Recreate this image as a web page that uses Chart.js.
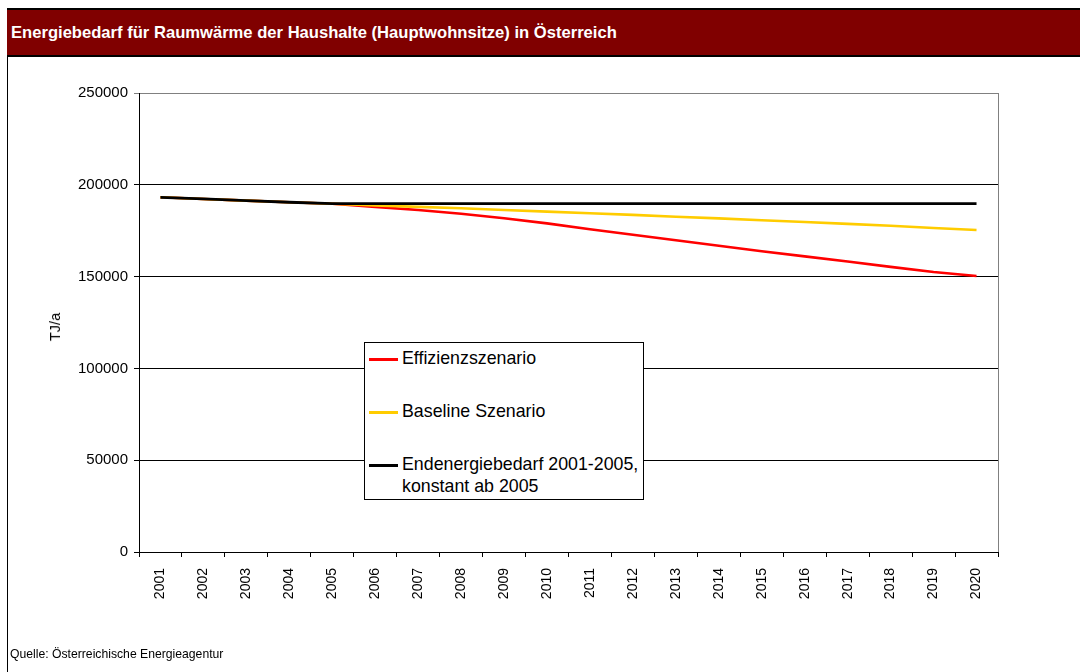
<!DOCTYPE html>
<html>
<head>
<meta charset="utf-8">
<script src="https://cdn.jsdelivr.net/npm/chart.js@4.4.0/dist/chart.umd.min.js"></script>
<style>
  html, body { margin:0; padding:0; background:#fff; }
  body { width:1080px; height:672px; position:relative; overflow:hidden; font-family:"Liberation Sans", Arial, sans-serif; }
  #frame { position:absolute; left:7px; top:8px; width:1080px; height:670px; border-left:1px solid #000; }
  #band { position:absolute; left:7px; top:8px; width:1080px; height:45px; background:#800000; border-top:2px solid #000; border-bottom:2px solid #000; }
  #title { position:absolute; left:11px; top:23px; color:#fff; font-weight:bold; font-size:16.6px; line-height:20px; white-space:nowrap; }
  #wrap { position:absolute; left:0; top:0; width:1080px; height:672px; }
  #ytitle { position:absolute; left:55px; top:327px; font-size:14.5px; font-weight:normal; color:#000; transform:translate(-50%,-50%) rotate(-90deg); white-space:nowrap; }
  #legend { position:absolute; left:364px; top:342px; width:278px; height:156px; border:1px solid #000; background:#fff; font-size:17.8px; color:#000; }
  .item { position:absolute; left:4px; }
  .sw { position:absolute; left:0; width:29px; height:2.5px; }
  .lt { position:absolute; left:33px; white-space:nowrap; line-height:22px; }
  #foot { position:absolute; left:10px; top:647px; font-size:12.2px; white-space:nowrap; color:#000; }
</style>
</head>
<body>
<div id="frame"></div>
<div id="band"></div>
<div id="title">Energiebedarf für Raumwärme der Haushalte (Hauptwohnsitze) in Österreich</div>
<div id="wrap"><canvas id="c" width="1080" height="672"></canvas></div>
<div id="ytitle">TJ/a</div>
<div id="legend">
  <div class="item" style="top:15px"><div class="sw" style="background:#ff0000;top:0"></div><div class="lt" style="top:-11px">Effizienzszenario</div></div>
  <div class="item" style="top:68px"><div class="sw" style="background:#ffcc00;top:0"></div><div class="lt" style="top:-11px">Baseline Szenario</div></div>
  <div class="item" style="top:121px"><div class="sw" style="background:#000;top:0"></div><div class="lt" style="top:-11px">Endenergiebedarf 2001-2005,<br>konstant ab 2005</div></div>
</div>
<div id="foot">Quelle: Österreichische Energieagentur</div>
<script>
const years = ["2001","2002","2003","2004","2005","2006","2007","2008","2009","2010","2011","2012","2013","2014","2015","2016","2017","2018","2019","2020"];
const effizienz = [193200,192300,191400,190500,189700,188000,186300,184200,181800,179000,175800,172800,169800,166800,163800,161000,158200,155300,152500,150300];
const baseline  = [193200,192300,191400,190500,189700,188800,188000,187200,186300,185400,184500,183600,182600,181700,180700,179700,178700,177700,176500,175400];
const endenergie= [193200,192300,191400,190500,189700,189700,189700,189700,189700,189700,189700,189700,189700,189700,189700,189700,189700,189700,189700,189700];
const yTicks = [0,50000,100000,150000,200000,250000];

const borderPlugin = {
  id:'rightBorder',
  afterDraw(chart){
    const a = chart.chartArea, ctx = chart.ctx;
    ctx.save();
    ctx.strokeStyle = '#808080';
    ctx.lineWidth = 1;
    ctx.beginPath();
    ctx.moveTo(Math.round(a.right)+0.5, a.top);
    ctx.lineTo(Math.round(a.right)+0.5, a.bottom);
    ctx.stroke();
    ctx.restore();
  }
};

new Chart(document.getElementById('c'), {
  type:'line',
  data:{
    labels: years,
    datasets:[
      {label:'Endenergiebedarf 2001-2005, konstant ab 2005', data:endenergie, borderColor:'#000000', borderWidth:2.8, pointRadius:0, tension:0, fill:false},
      {label:'Baseline Szenario', data:baseline, borderColor:'#ffcc00', borderWidth:2.6, pointRadius:0, tension:0, fill:false},
      {label:'Effizienzszenario', data:effizienz, borderColor:'#ff0000', borderWidth:2.6, pointRadius:0, tension:0, fill:false}
    ]
  },
  options:{
    responsive:false,
    animation:false,
    devicePixelRatio:1,
    layout:{padding:{top:93, right:82, left:0, bottom:0}},
    plugins:{legend:{display:false}, tooltip:{enabled:false}, title:{display:false}},
    scales:{
      x:{
        type:'category',
        offset:true,
        afterFit(s){ s.height = 120; },
        grid:{display:true, offset:true, drawOnChartArea:false, drawTicks:true, tickLength:5, color:'#000'},
        border:{display:true, color:'#000', width:1},
        ticks:{minRotation:90, maxRotation:90, autoSkip:false, padding:11, color:'#000', font:{family:'"Liberation Sans", Arial, sans-serif', size:14}}
      },
      y:{
        min:0, max:250000,
        afterFit(s){ s.width = 139; },
        afterBuildTicks(s){ s.ticks = yTicks.map(v=>({value:v})); },
        grid:{color:(c)=> c.tick && c.tick.value===250000 ? '#808080' : '#000', tickLength:5, drawTicks:true},
        border:{display:true, color:'#000', width:1},
        ticks:{padding:6, color:'#000', font:{family:'"Liberation Sans", Arial, sans-serif', size:15}, callback:(v)=>String(v)}
      }
    }
  },
  plugins:[borderPlugin]
});
</script>
</body>
</html>
